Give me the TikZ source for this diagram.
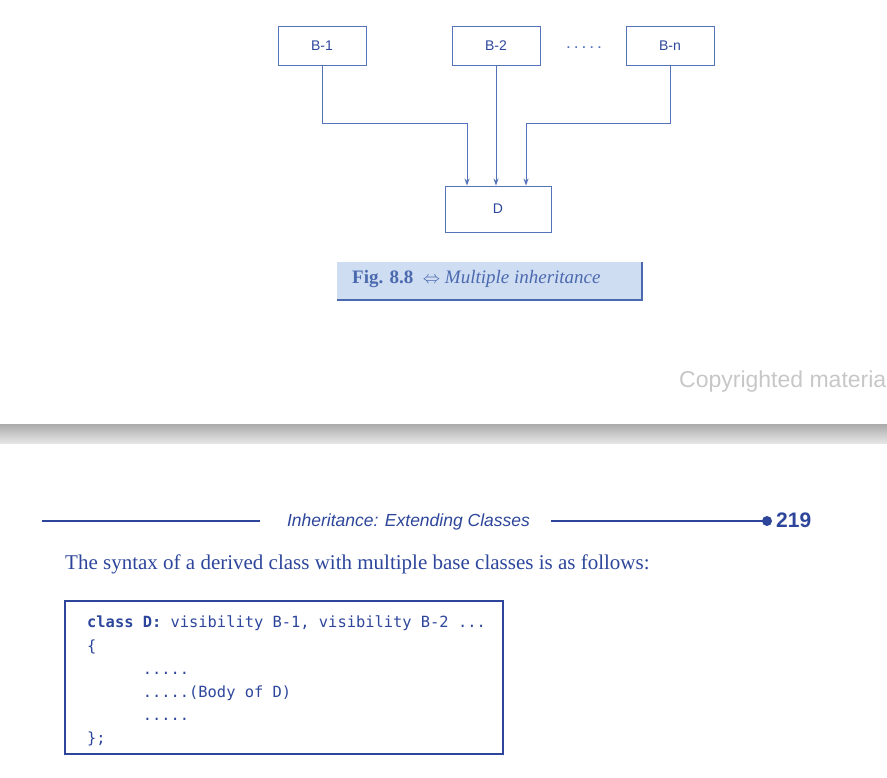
\documentclass[tikz,border=0pt]{standalone}
\usepackage{fontspec}
\setmainfont{Liberation Serif}
\setsansfont{Liberation Sans}
\setmonofont{DejaVu Sans Mono}
\usetikzlibrary{arrows.meta, positioning, calc}

\definecolor{ink}{RGB}{45,70,155}
\definecolor{rule}{RGB}{85,115,185}
\definecolor{capfill}{RGB}{206,221,242}
\definecolor{capink}{RGB}{75,105,175}

\begin{document}
\begin{tikzpicture}[
    x=1pt, y=-1pt,
    >=Stealth,
    cls/.style={draw=rule, line width=0.9pt, minimum width=88pt,
                minimum height=39pt, font=\sffamily\fontsize{14}{16}\selectfont,
                text=ink, inner sep=0pt},
    link/.style={draw=rule, line width=1pt,
                 -{Stealth[length=7pt, width=5pt]}},
    codebox/.style={draw=ink, line width=2pt, minimum width=438pt,
                    minimum height=153pt, inner sep=0pt},
    code/.style={font=\ttfamily\fontsize{15.4}{23.2}\selectfont, text=ink,
                 align=left, inner sep=0pt, anchor=north west}
  ]
  \useasboundingbox (0,0) rectangle (887,778);

  % base classes and the derived class
  \node[cls] (b1) at (322,46) {B-1};
  \node[cls] (b2) at (496,46) {B-2};
  \node[cls] (bn) at (670,46) {B-n};
  \node[font=\sffamily\bfseries\fontsize{12}{14}\selectfont, text=rule] (dots)
    at (584,48) {. . . . .};
  \node[cls, minimum width=106pt, minimum height=46pt] (d) at (498,209) {D};

  \coordinate (jl) at (467,124);
  \coordinate (jr) at (526,124);
  \draw[link] (b1.south) |- (jl) -- (jl |- d.north);
  \draw[link] (b2.south) -- (b2.south |- d.north);
  \draw[link] (bn.south) |- (jr) -- (jr |- d.north);

  % caption
  \node[fill=capfill, minimum width=305pt, minimum height=38pt,
        inner sep=0pt] (cap) at (489.5,281) {};
  \draw[capink, line width=1.5pt] (cap.north east) -- (cap.south east)
    -- (cap.south west);
  \node[text=capink, font=\fontsize{19}{22}\selectfont, anchor=west,
        inner sep=0pt] (captext)
    at (352,279) {\textbf{Fig. 8.8}\ \ $\Leftrightarrow$
    \textit{Multiple inheritance}};

  % page break
  \node[anchor=west, text=black!22,
        font=\sffamily\fontsize{23}{26}\selectfont, inner sep=0pt]
    (copy) at (679,382) {Copyrighted materia};
  \shade[top color=black!33, bottom color=black!10] (0,424) rectangle (887,443);

  % running head
  \node[text=ink, font=\sffamily\itshape\fontsize{17.5}{20}\selectfont,
        inner sep=0pt] (head) at (408.5,521.5) {Inheritance: Extending Classes};
  \node[text=ink, font=\sffamily\bfseries\fontsize{21}{24}\selectfont,
        anchor=west, inner sep=0pt] (page) at (776,520) {219};
  \coordinate (hl) at (42,521);
  \coordinate (hr) at (767,521);
  \draw[ink, line width=1.3pt] (hl) -- ([xshift=-27pt]head.west |- hl);
  \draw[ink, line width=1.3pt] ([xshift=21pt]head.east |- hr) -- (hr);
  \fill[ink] (hr) circle (5pt);

  \node[text=ink, font=\fontsize{21}{24}\selectfont, anchor=west,
        inner sep=0pt] (para) at (65,564)
    {The syntax of a derived class with multiple base classes is as follows:};

  % code block
  \node[codebox] (cb) at (284,677.5) {};
  \node[code] (cbtext) at ([xshift=23pt, yshift=-16pt]cb.north west)
    {\textbf{class D:} visibility B-1, visibility B-2 ...\\
     \{\\
     \phantom{xxxxxx}.....\\
     \phantom{xxxxxx}.....(Body of D)\\
     \phantom{xxxxxx}.....\\
     \};};
\end{tikzpicture}
\end{document}
